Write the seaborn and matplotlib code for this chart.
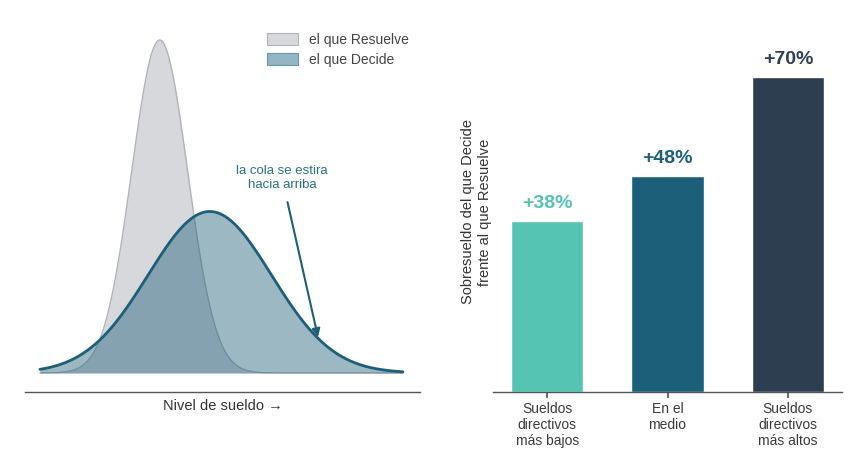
import numpy as np
import pandas as pd
import matplotlib
matplotlib.use("Agg")
import matplotlib.pyplot as plt
from matplotlib.patches import Patch
import seaborn as sns

# ---- data ----
groups = ["el que Resuelve", "el que Decide"]
dist_means = [3.3, 4.68]        # salary level (arbitrary units)
dist_sds = [0.77, 1.70]
dist_peaks = [1.0, 0.485]

categories = ["Sueldos\ndirectivos\nmás bajos", "En el\nmedio", "Sueldos\ndirectivos\nmás altos"]
premium = [38, 48, 70]
premium_labels = ["+38%", "+48%", "+70%"]

bar_colors = ["#55c4b2", "#1b6078", "#2c3e50"]
grey_fill = "#d6d8dc"
grey_edge = "#b0b3b7"
blue = "#1d5f78"

sns.set_theme(style="white")
plt.rcParams["font.family"] = ["Liberation Sans", "DejaVu Sans"]

fig = plt.figure(figsize=(8.64, 4.67), dpi=100)
W, H = 864, 467

# ---- left: distributions ----
axL = fig.add_axes([25 / W, (H - 392) / H, 395 / W, 362 / H])
x = np.linspace(0, 10, 600)
curves = []
for m, s, p in zip(dist_means, dist_sds, dist_peaks):
    curves.append(p * np.exp(-0.5 * ((x - m) / s) ** 2))
df = pd.DataFrame({"x": np.concatenate([x, x]),
                   "y": np.concatenate(curves),
                   "grupo": np.repeat(groups, len(x))})

axL.fill_between(x, 0, curves[0], color=grey_fill, alpha=1.0, lw=0, zorder=1)
sns.lineplot(data=df[df.grupo == groups[0]], x="x", y="y", color=grey_edge, lw=1.0,
             ax=axL, zorder=2, legend=False)
axL.fill_between(x, 0, curves[1], color=blue, alpha=0.44, lw=0, zorder=3)
sns.lineplot(data=df[df.grupo == groups[1]], x="x", y="y", color=blue, lw=2.0,
             ax=axL, zorder=4, legend=False)

axL.set_xlim(-0.41, 10.47)
axL.set_ylim(-0.057, 1.03)
axL.set_xticks([])
axL.set_yticks([])
axL.set_ylabel("")
axL.set_xlabel("Nivel de sueldo →", fontsize=10.5, color="#333333", labelpad=5)
for sp in ["top", "right", "left"]:
    axL.spines[sp].set_visible(False)
axL.spines["bottom"].set_color("#555555")
axL.spines["bottom"].set_linewidth(1.0)

handles = [Patch(facecolor=grey_fill, edgecolor=grey_edge, lw=0.8),
           Patch(facecolor="#94b6c4", edgecolor="#6a95a6", lw=0.8)]
fig.legend(handles, groups, loc="upper left", bbox_to_anchor=(267 / W, 1 - 33 / H),
           frameon=False, fontsize=10, handlelength=2.2, handleheight=0.9,
           labelspacing=0.42, handletextpad=0.8, borderpad=0, borderaxespad=0,
           labelcolor="#444444")

axL.annotate("la cola se estira\nhacia arriba", xy=(7.66, 0.108), xytext=(6.67, 0.586),
             ha="center", va="center", fontsize=9.5, color="#2a7085",
             arrowprops=dict(arrowstyle="-|>", color=blue, lw=1.5,
                             mutation_scale=12, shrinkA=6, shrinkB=0))

# ---- right: bars ----
axR = fig.add_axes([493 / W, (H - 392) / H, 349 / W, 360 / H])
bdf = pd.DataFrame({"cat": categories, "val": premium})
sns.barplot(data=bdf, x="cat", y="val", hue="cat", palette=bar_colors, width=0.6,
            ax=axR, legend=False, saturation=1)
for i, (v, lab, c) in enumerate(zip(premium, premium_labels, bar_colors)):
    axR.text(i, v + 2.0, lab, ha="center", va="bottom", fontsize=14,
             fontweight="bold", color=c)
axR.set_xlim(-0.45, 2.45)
axR.set_ylim(0, 80)
axR.set_yticks([])
axR.set_xlabel("")
axR.set_ylabel("Sobresueldo del que Decide\nfrente al que Resuelve", fontsize=10.5,
               color="#333333", labelpad=1)
axR.tick_params(axis="x", length=4, color="#555555", labelsize=10, labelcolor="#3a3a3a",
                bottom=True, pad=3)
for sp in ["top", "right", "left"]:
    axR.spines[sp].set_visible(False)
axR.spines["bottom"].set_color("#555555")
axR.spines["bottom"].set_linewidth(1.0)

fig.savefig("out.png", dpi=100, facecolor="white")
